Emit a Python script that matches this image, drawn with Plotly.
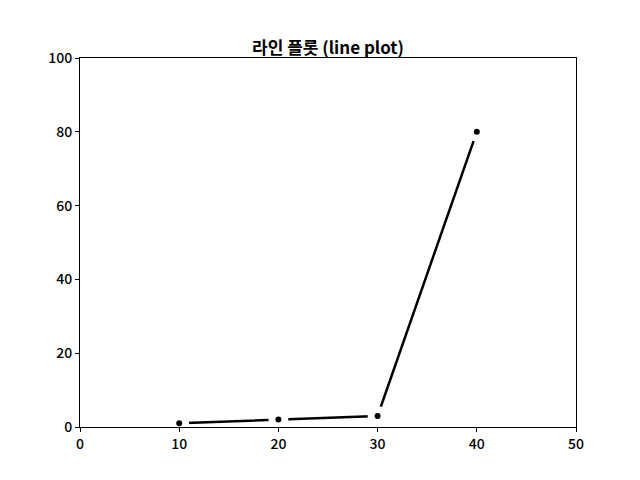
import plotly.graph_objects as go

x_vals = [10, 20, 30, 40]
y_vals = [1, 2, 3, 80]
title_text = "라인 플롯 (line plot)"
x_ticks = [0, 10, 20, 30, 40, 50]
y_ticks = [0, 20, 40, 60, 80, 100]

font_family = "Noto Sans CJK KR, Noto Sans, sans-serif"

fig = go.Figure()
fig.add_trace(go.Scatter(
    x=x_vals, y=y_vals, mode="lines+markers",
    line=dict(color="black", width=2.5),
    marker=dict(color="black", size=13, line=dict(color="white", width=7)),
    cliponaxis=False,
))
axis_common = dict(
    showgrid=False, zeroline=False, showline=True, linecolor="black", linewidth=1,
    mirror=True, ticks="outside", ticklen=4, tickcolor="black", tickwidth=1,
    tickfont=dict(family=font_family, size=14, color="black", weight=500),
)
fig.update_xaxes(range=[0, 50], tickvals=x_ticks, **axis_common)
fig.update_yaxes(range=[0, 100], tickvals=y_ticks, **axis_common)
fig.update_layout(
    width=640, height=480,
    margin=dict(l=72, r=72, t=50, b=61),
    paper_bgcolor="white", plot_bgcolor="white",
    showlegend=False,
    title=dict(text=title_text, x=0.5, xref="paper", y=1, yref="paper",
               yanchor="bottom", pad=dict(b=4),
               font=dict(family=font_family, size=17, color="black", weight=700)),
)
fig.write_html("out.html")
